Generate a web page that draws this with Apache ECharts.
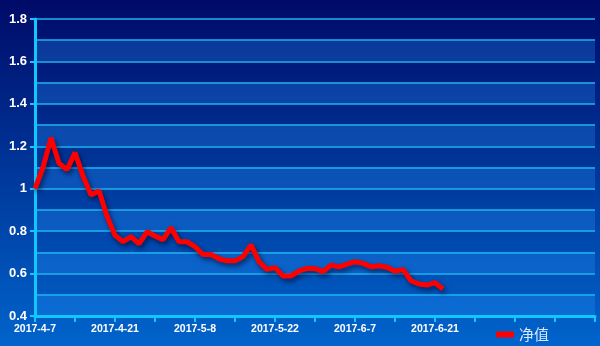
<!DOCTYPE html>
<html><head><meta charset="utf-8">
<script src="https://cdn.jsdelivr.net/npm/echarts@6/dist/echarts.min.js"></script>
<style>html,body{margin:0;padding:0;}#c{width:600px;height:346px;}</style>
</head><body><div id="c"></div>
<script>
var categories = [
 '2017-4-7','2017-4-10','2017-4-11','2017-4-12','2017-4-13','2017-4-14',
 '2017-4-17','2017-4-18','2017-4-19','2017-4-20','2017-4-21',
 '2017-4-24','2017-4-25','2017-4-26','2017-4-27','2017-4-28',
 '2017-5-2','2017-5-3','2017-5-4','2017-5-5',
 '2017-5-8','2017-5-9','2017-5-10','2017-5-11','2017-5-12',
 '2017-5-15','2017-5-16','2017-5-17','2017-5-18','2017-5-19',
 '2017-5-22','2017-5-23','2017-5-24','2017-5-25','2017-5-26',
 '2017-5-31','2017-6-1','2017-6-2',
 '2017-6-5','2017-6-6','2017-6-7','2017-6-8','2017-6-9',
 '2017-6-12','2017-6-13','2017-6-14','2017-6-15','2017-6-16',
 '2017-6-19','2017-6-20','2017-6-21','2017-6-22','2017-6-23',
 '','','','','','','','','','','','','','','','','',''
];
var netValue = [
 1.00,1.10,1.24,1.12,1.09,1.17,1.06,0.97,0.99,0.87,0.78,
 0.75,0.774,0.74,0.797,0.777,0.76,0.816,0.75,0.75,
 0.727,0.69,0.69,0.67,0.66,0.66,0.68,0.735,0.656,0.62,
 0.628,0.589,0.589,0.613,0.625,0.623,0.609,0.64,
 0.632,0.645,0.656,0.648,0.632,0.637,0.63,0.611,0.62,0.566,
 0.551,0.546,0.557,0.527
];
var seriesName = '净值';
var yMin = 0.4, yMax = 1.8;

var chart = echarts.init(document.getElementById('c'), null, {renderer:'canvas'});
chart.setOption({
  animation:false,
  backgroundColor:{type:'linear',x:0,y:0,x2:0,y2:1,colorStops:[{offset:0,color:'#000a68'},{offset:1,color:'#0064cc'}]},
  grid:{left:35,right:5,top:19,bottom:30,containLabel:false,outerBoundsMode:'none'},
  legend:{data:[{name:seriesName,icon:'roundRect'}],left:496,top:327,padding:0,itemWidth:18,itemHeight:6,itemGap:8,
    textStyle:{color:'#d8e8ff',fontSize:15,fontFamily:'Noto Sans CJK SC'}},
  xAxis:{type:'category',data:categories,boundaryGap:false,
    axisLine:{lineStyle:{color:'#10c8ff',width:3}},
    axisTick:{interval:4,length:6,lineStyle:{color:'#10c8ff',width:2}},
    axisLabel:{interval:9,color:'#ffffff',fontSize:10.5,fontWeight:'bold',fontFamily:'Liberation Sans',margin:8},
    splitLine:{show:false}},
  yAxis:[
    {type:'value',min:yMin,max:yMax,interval:0.2,
     axisLine:{show:true,lineStyle:{color:'#10c8ff',width:3}},
     axisTick:{show:true,length:5,lineStyle:{color:'#10c8ff',width:2}},
     axisLabel:{color:'#ffffff',fontSize:13,fontWeight:'bold',fontFamily:'Liberation Sans',margin:8},
     splitLine:{show:false}},
    {type:'value',min:yMin,max:yMax,interval:0.1,position:'left',
     axisLine:{show:false},axisTick:{show:false},axisLabel:{show:false},
     splitLine:{show:true,lineStyle:{color:'#1fb4f0',width:1.5}},
     splitArea:{show:true,areaStyle:{color:['rgba(40,150,255,0.28)','rgba(0,0,0,0)']}}}
  ],
  series:[{name:seriesName,type:'line',data:netValue,yAxisIndex:0,symbol:'none',smooth:false,
    lineStyle:{color:'#ff0000',width:5,shadowColor:'rgba(0,0,40,0.6)',shadowBlur:5,shadowOffsetX:2,shadowOffsetY:3},
    itemStyle:{color:'#ff0000'}}]
});
</script></body></html>
